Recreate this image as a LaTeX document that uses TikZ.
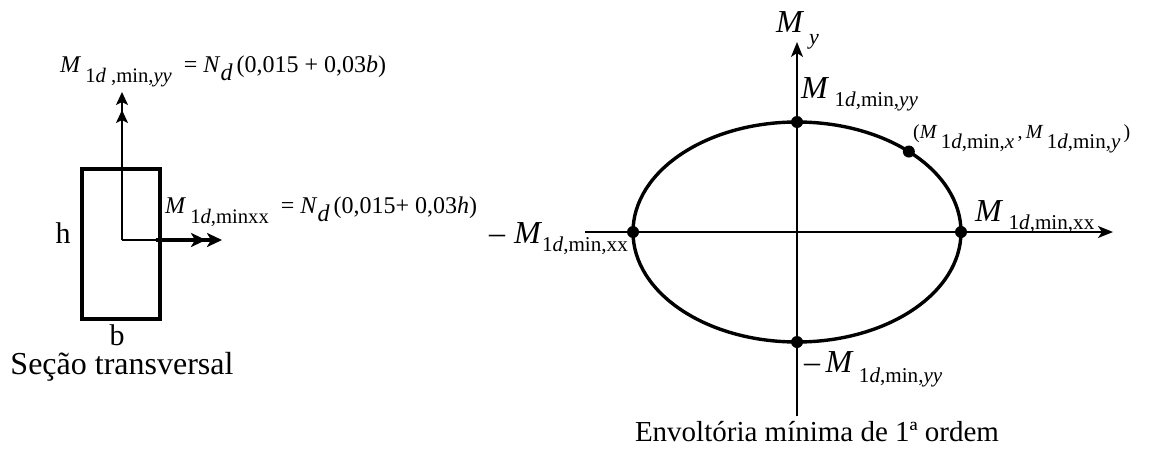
\documentclass[tikz,border=0pt]{standalone}
\usepackage{fontspec}
\setmainfont{Liberation Serif}
\usetikzlibrary{arrows.meta,positioning,calc}
% lowered, scaled index: \Sb{scale}{drop}{text}
\newcommand{\Sb}[3]{\raisebox{-#2}{\scalebox{#1}{#3}}}

\begin{document}
\begin{tikzpicture}[x=1pt,y=-1pt,
  sec/.style={draw,line width=3.6pt},
  ax/.style={line width=1.8pt},
  dblv/.style={-{Stealth[length=13pt,width=12pt,inset=3pt,sep=5pt]Stealth[length=13pt,width=12pt,inset=3pt]}},
  dblh/.style={-{Stealth[length=15pt,width=14pt,inset=4pt,sep=1pt]Stealth[length=15pt,width=14pt,inset=4pt]}},
  dot/.style={circle,fill,inner sep=0pt,minimum size=12pt},
  lbl/.style={inner sep=0pt,font=\fontsize{32}{36}\selectfont},
  eq/.style={inner sep=0pt,font=\fontsize{24}{28}\selectfont},
  ttl/.style={inner sep=0pt,font=\fontsize{30}{34}\selectfont}]
\useasboundingbox (0,0) rectangle (1160,450);

% secao transversal
\node[sec,minimum width=78pt,minimum height=150pt,anchor=north west] (rect) at (80,167) {};
\coordinate (o) at (122,240);
\coordinate (ytip) at (122,92);
\coordinate (xtip) at (222,240);
\draw[ax,dblv] (o) -- (ytip);
\draw[ax] (o) -- (rect.east |- o);
\draw[line width=3.6pt,dblh] ($(rect.east |- o)+(-6,0)$) -- (xtip);
\node[eq,anchor=base west] (myy) at (60,72) {\textit{M}\,\Sb{0.86}{0.42em}{1\textit{d} ,min,\textit{yy}}\enspace= \textit{N}\Sb{1}{0.35em}{\textit{d}}\,(0,015 + 0,03\textit{b})};
\node[eq,anchor=base west] (mxx) at (165,213) {\textit{M}\,\Sb{0.86}{0.42em}{1\textit{d},minxx}\enspace= \textit{N}\Sb{1}{0.35em}{\textit{d}}\,(0,015+ 0,03\textit{h})};
\node[ttl,anchor=base] (h) at (63,243) {h};
\node[ttl,anchor=base] (b) at (117,345) {b};
\node[ttl,anchor=base,font=\fontsize{32}{36}\selectfont,text height=20pt] (titA) at (122,374) {Seção transversal};

% envoltoria
\coordinate (c) at (797,232);
\coordinate (ax0) at (585,232);
\coordinate (ax1) at (1113,232);
\coordinate (ay0) at (797,416);
\coordinate (ay1) at (797,42);
\draw[ax,-{Stealth[length=15pt,width=12pt,inset=4pt]}] (ax0) -- (ax1);
\draw[ax,-{Stealth[length=15pt,width=12pt,inset=4pt]}] (ay0) -- (ay1);
\draw[line width=3.4pt] (c) ellipse [x radius=164,y radius=110];
\node[dot] (pt) at (797,122) {};
\node[dot] (pb) at (797,342) {};
\node[dot] (pl) at (633,232) {};
\node[dot] (pr) at (961,232) {};
\node[dot] (pm) at ($(c)+({164*cos(47)},{-110*sin(47)})$) {};
\node[lbl,anchor=base west] (my) at (776,32) {\textit{M}};
\node[eq,anchor=base west,font=\fontsize{22}{26}\selectfont] (mysub) at (809,44) {\textit{y}};
\node[lbl,anchor=base west] (ltop) at (801,98) {\textit{M}\,\Sb{0.66}{0.28em}{1\textit{d},min,\textit{yy}}};
\node[lbl,anchor=base west] (lright) at (975,221) {\textit{M}\,\Sb{0.66}{0.28em}{1\textit{d},min,xx}};
\node[lbl,anchor=base east] (lleft) at (628,243) {\textendash\;\textit{M}\Sb{0.66}{0.28em}{1\textit{d},min,xx}};
\node[lbl,anchor=base west] (lbot) at (804,372) {\textendash\,\textit{M}\,\Sb{0.66}{0.33em}{1\textit{d},min,\textit{yy}}};
\node[eq,anchor=base west,font=\fontsize{20}{24}\selectfont] (lpt) at (913,138) {(\textit{M}\,\Sb{1.05}{0.5em}{1\textit{d},min,\textit{x}}\,,\,\textit{M}\,\Sb{1.05}{0.5em}{1\textit{d},min,\textit{y}}\,)};
\node[ttl,anchor=base,font=\fontsize{29}{34}\selectfont] (titB) at (817,441) {Envoltória mínima de 1ª ordem};
\end{tikzpicture}
\end{document}
